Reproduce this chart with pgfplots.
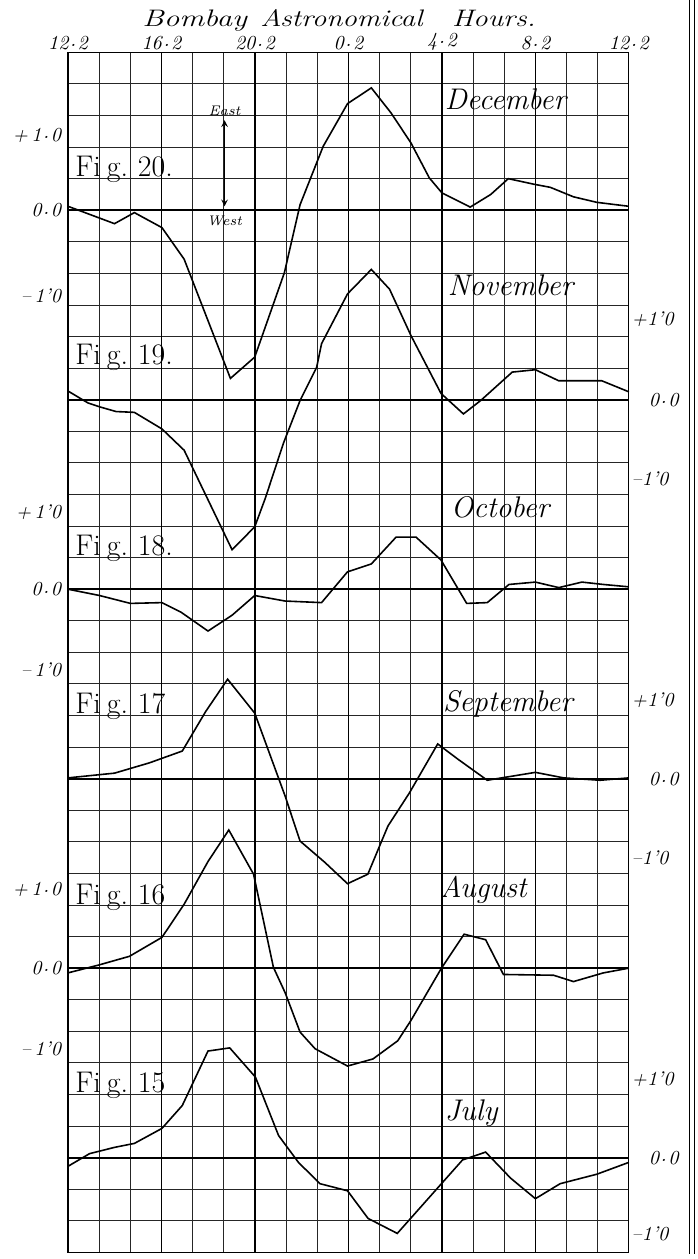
\documentclass[border=0pt]{standalone}
\usepackage{fontspec}
\usepackage{pgfplots}
\usepackage{pgfplotstable}
\pgfplotsset{compat=1.18}

% hours after 12.2, deflection (units of 1'0)
\pgfplotstableread{
h v
0 0.05
1.99 -0.17
2.84 -0.03
4.02 -0.22
4.97 -0.62
6.95 -2.13
7.99 -1.86
9.26 -0.79
9.93 0.07
10.92 0.81
11.96 1.35
12.98 1.55
13.83 1.23
14.68 0.85
15.46 0.41
16.0 0.22
17.21 0.04
18.09 0.20
18.84 0.40
19.93 0.33
20.64 0.29
21.63 0.17
22.63 0.10
24 0.05
}\tdec

\pgfplotstableread{
h v
0 0.11
0.85 -0.04
1.35 -0.09
2.06 -0.15
2.84 -0.16
4.02 -0.37
4.97 -0.64
7.02 -1.90
7.99 -1.61
8.44 -1.25
9.22 -0.55
9.93 -0.01
10.64 0.41
10.85 0.71
11.96 1.34
12.98 1.65
13.76 1.40
14.68 0.81
15.96 0.08
16.92 -0.18
17.66 -0.01
19.01 0.35
20.0 0.38
21.0 0.24
21.91 0.24
22.84 0.24
24 0.10
}\tnov

\pgfplotstableread{
h v
0 0
1.35 -0.08
2.67 -0.18
4.02 -0.17
4.83 -0.29
5.99 -0.53
7.02 -0.33
7.99 -0.08
9.29 -0.15
10.85 -0.17
11.96 0.22
12.98 0.32
14.04 0.66
14.89 0.66
15.96 0.37
17.06 -0.18
17.94 -0.17
18.87 0.06
20.0 0.09
21.0 0.02
21.99 0.09
22.91 0.06
24 0.03
}\toct

\pgfplotstableread{
h v
0 0.01
1.99 0.07
3.48 0.20
4.89 0.35
5.89 0.85
6.83 1.26
7.99 0.83
9.29 -0.22
9.93 -0.79
10.99 -1.06
11.96 -1.33
12.83 -1.21
13.69 -0.60
14.61 -0.18
15.82 0.44
16.67 0.25
17.94 -0.02
20.0 0.08
21.21 0.01
22.77 -0.02
24 0.01
}\tsep

\pgfplotstableread{
h v
0 -0.06
1.32 0.04
2.63 0.15
4.02 0.39
4.97 0.81
5.99 1.35
6.88 1.75
7.94 1.19
8.79 0.01
9.29 -0.31
9.93 -0.81
10.57 -1.02
11.96 -1.24
13.05 -1.15
14.11 -0.92
14.68 -0.66
15.96 -0.01
16.95 0.43
17.87 0.36
18.63 -0.08
20.78 -0.09
21.63 -0.17
22.91 -0.06
24 0
}\taug

\pgfplotstableread{
h v
0 -0.11
0.92 0.05
1.99 0.13
2.84 0.18
4.02 0.37
4.89 0.66
5.99 1.35
6.92 1.39
8.02 1.02
9.01 0.28
9.86 -0.06
10.78 -0.33
11.96 -0.42
12.84 -0.77
14.09 -0.96
15.68 -0.43
16.88 -0.03
17.87 0.07
18.94 -0.26
20.0 -0.52
21.06 -0.33
22.63 -0.21
24 -0.06
}\tjul

\newcommand\labfont{\itshape\fontsize{10}{10}\selectfont}
\newcommand\figfont{\fontsize{15}{15}\selectfont}
\newcommand\monthfont{\itshape\fontsize{15}{15}\selectfont}
\newcommand\headfont{\itshape\fontsize{12}{12}\selectfont}
% raised point as in 12.2 (the font's centred dot is too wide)
\newcommand\pd{\kern0.08em\raisebox{0.3ex}{.}\kern0.08em}
\newcommand\figlab[1]{Fi\kern3pt g.\kern5pt#1}

\begin{document}
\begin{tikzpicture}
\begin{axis}[
    scale only axis,
    width=281.7pt, height=602.7pt,
    xmin=0, xmax=24, ymin=0, ymax=15.2,
    clip=false,
    axis line style={line width=0.6pt},
    xtick={0,1.3333,2.6667,4,5.3333,6.6667,8,9.3333,10.6667,12,13.3333,14.6667,16,17.3333,18.6667,20,21.3333,22.6667,24},
    xticklabels={},
    ytick={0,0.4,...,15.2},
    yticklabels={},
    xticklabel pos=upper,
    extra x ticks={0,4,...,24},
    extra x tick labels={\textit{12\pd2},\textit{16\pd2},\textit{20\pd2},\textit{0\pd2},\textit{4\pd2},\textit{8\pd2},\textit{12\pd2}},
    extra x tick style={grid=major, major grid style={black, line width=0.6pt},
        xticklabel pos=upper, xticklabel style={font=\labfont, inner sep=1pt}},
    extra y ticks={1.2,3.6,6.0,8.4,10.8,13.2},
    extra y tick labels={},
    extra y tick style={grid=major, major grid style={black, line width=1pt}},
    grid=major,
    major grid style={black!85, line width=0.45pt},
    tick style={draw=none},
    no markers,
]
\addplot[black, line width=0.8pt] table[x=h, y expr=\thisrow{v}+13.2] {\tdec};
\addplot[black, line width=0.8pt] table[x=h, y expr=\thisrow{v}+10.8] {\tnov};
\addplot[black, line width=0.8pt] table[x=h, y expr=\thisrow{v}+8.4] {\toct};
\addplot[black, line width=0.8pt] table[x=h, y expr=\thisrow{v}+6.0] {\tsep};
\addplot[black, line width=0.8pt] table[x=h, y expr=\thisrow{v}+3.6] {\taug};
\addplot[black, line width=0.8pt] table[x=h, y expr=\thisrow{v}+1.2] {\tjul};

% page size and border rule
\path (axis cs:-2.91,-0.019) rectangle (axis cs:26.95,15.857);
\draw[line width=0.5pt] (axis cs:26.61,-0.019) -- (axis cs:26.61,15.857);
\draw[line width=0.5pt] (axis cs:26.82,-0.019) -- (axis cs:26.82,15.857);

% title, words widely spaced as engraved
\begin{scope}[every node/.style={inner sep=0pt, font=\headfont, anchor=base}]
\node at (axis cs:5.42,15.53) {\scalebox{1.3}[1]{Bombay}};
\node at (axis cs:11.70,15.53) {\scalebox{1.22}[1]{Astronomical}};
\node at (axis cs:18.22,15.53) {\scalebox{1.22}[1]{Hours.}};
\end{scope}

% east / west arrow
\draw[<->, >=stealth, line width=0.5pt] (axis cs:6.70,13.25) -- (axis cs:6.70,14.34);
\node[font=\itshape\fontsize{7}{7}\selectfont, anchor=base] at (axis cs:6.70,14.40) {East};
\node[font=\itshape\fontsize{7}{7}\selectfont] at (axis cs:6.70,13.06) {West};

% figure numbers
\begin{scope}[every node/.style={font=\figfont, anchor=base west, inner sep=0pt}]
\node at (axis cs:0.3,13.63) {\figlab{20.}};
\node at (axis cs:0.3,11.25) {\figlab{19.}};
\node at (axis cs:0.3,8.83) {\figlab{18.}};
\node at (axis cs:0.3,6.83) {\figlab{17}};
\node at (axis cs:0.3,4.41) {\figlab{16}};
\node at (axis cs:0.3,2.03) {\figlab{15}};
\end{scope}

% month names
\begin{scope}[every node/.style={font=\monthfont, anchor=base west, inner sep=0pt}]
\node at (axis cs:16.11,14.48) {December};
\node at (axis cs:16.24,12.12) {November};
\node at (axis cs:16.37,9.31) {October};
\node at (axis cs:16.03,6.85) {September};
\node at (axis cs:15.90,4.49) {August};
\node at (axis cs:16.11,1.67) {July};
\end{scope}

% left scales (Dec, Oct, Aug)
\begin{scope}[every node/.style={font=\labfont, anchor=east, inner sep=1pt}]
\node at (axis cs:-0.2,14.15) {+\,1\pd0};
\node at (axis cs:-0.2,13.2) {0\pd0};
\node at (axis cs:-0.2,12.12) {–\,1’0};
\node at (axis cs:-0.2,9.37) {+\,1’0};
\node at (axis cs:-0.2,8.4) {0\pd0};
\node at (axis cs:-0.2,7.38) {–\,1’0};
\node at (axis cs:-0.2,4.6) {+\,1\pd0};
\node at (axis cs:-0.2,3.6) {0\pd0};
\node at (axis cs:-0.2,2.58) {–\,1’0};
\end{scope}

% right scales (Nov, Sep, Jul)
\begin{scope}[every node/.style={font=\labfont, anchor=west, inner sep=1pt}]
\node at (axis cs:24.02,11.82) {+1’0};
\node at (axis cs:24.75,10.8) {0\pd0};
\node at (axis cs:24.02,9.8) {–1’0};
\node at (axis cs:24.02,7.0) {+1’0};
\node at (axis cs:24.75,6.0) {0\pd0};
\node at (axis cs:24.02,5.0) {–1’0};
\node at (axis cs:24.02,2.2) {+1’0};
\node at (axis cs:24.75,1.2) {0\pd0};
\node at (axis cs:24.02,0.24) {–1’0};
\end{scope}
\end{axis}
\end{tikzpicture}
\end{document}
